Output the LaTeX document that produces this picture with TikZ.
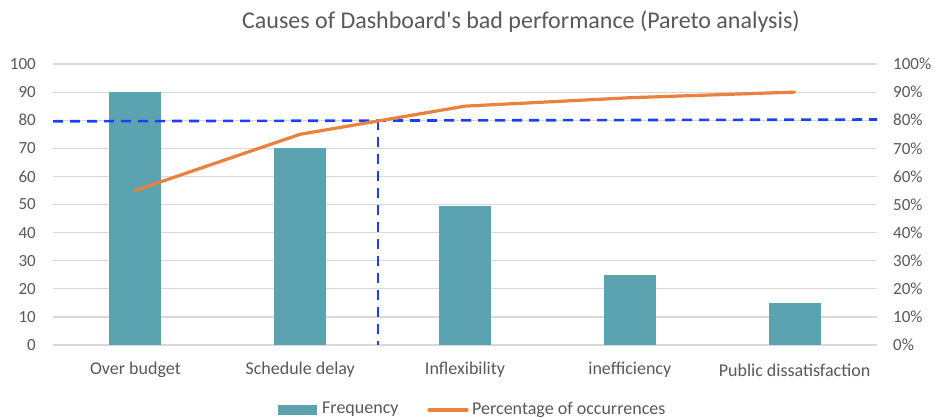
\documentclass[tikz,border=0pt]{standalone}
\usepackage{fontspec}
\setmainfont{Carlito}
\definecolor{barc}{HTML}{5BA3B1}
\definecolor{pctc}{HTML}{E8823D}
\definecolor{tgtc}{HTML}{1A40FF}
\definecolor{gridc}{HTML}{D9D9D9}
\definecolor{txtc}{HTML}{595959}
\begin{document}
\begin{tikzpicture}[x=1pt,y=-1pt,
  gridline/.style={gridc, line width=1.2pt},
  axislabel/.style={text=txtc, font=\fontsize{17}{17}\selectfont, inner sep=0pt},
  catlabel/.style={text=txtc, font=\fontsize{18}{18}\selectfont, inner sep=0pt},
  barbox/.style={fill=barc, draw=none},
  pctline/.style={pctc, line width=3.2pt, line cap=round, line join=round},
  target/.style={tgtc, line width=2.6pt, dash pattern=on 10pt off 7pt},
  legendtext/.style={text=txtc, font=\fontsize{18}{18}\selectfont, inner sep=0pt, anchor=west}]
\fill[white] (0,0) rectangle (936,418);
\useasboundingbox (0,0) rectangle (936,418);
% title
\node[text=txtc, font=\fontsize{24}{24}\selectfont, inner sep=0pt] (title) at (521,22) {Causes of Dashboard\textquotesingle s bad performance (Pareto analysis)};
% grid and axis labels
\foreach \k in {0,...,10} {
  \pgfmathtruncatemacro{\v}{\k*10}
  \draw[gridline] (53,{345-\k*28.1}) -- (877,{345-\k*28.1});
  \node[axislabel, anchor=east] (l\k) at (36,{345-\k*28.1}) {\v};
  \node[axislabel, anchor=west] (r\k) at (893,{345-\k*28.1}) {\v\%};
}
% bars
\foreach \c/\val [count=\i] in {135.4/90, 300.2/70, 465/49.5, 629.8/25, 794.6/15} {
  \fill[barbox] ({\c-26},345) rectangle ({\c+26},{345-\val*2.81});
}
% target lines
\coordinate (tl) at (53,121.3);
\coordinate (tr) at (877,119.5);
\coordinate (vt) at (378,120.3);
\coordinate (vb) at (378,345);
\draw[target] (tl) -- (tr);
\draw[target] (vt) -- (vb);
% percentage line
\coordinate (p1) at (135.4,{345-55*2.81});
\coordinate (p2) at (300.2,{345-75*2.81});
\coordinate (p3) at (465,{345-85*2.81});
\coordinate (p4) at (629.8,{345-88*2.81});
\coordinate (p5) at (794.6,{345-90*2.81});
\draw[pctline] (p1) -- (p2) -- (p3) -- (p4) -- (p5);
% category labels
\node[catlabel] (c1) at (135.4,370) {Over budget};
\node[catlabel] (c2) at (300.2,370) {Schedule delay};
\node[catlabel] (c3) at (465,370) {Inflexibility};
\node[catlabel] (c4) at (629.8,370) {inefficiency};
\node[catlabel] (c5) at (794.6,370) {Public dissatisfaction};
% legend
\fill[barbox] (278,405) rectangle (317,415);
\node[legendtext] (lf) at (322,409.5) {Frequency};
\coordinate (la) at (429,410);
\coordinate (lb) at (467,410);
\draw[pctline] (la) -- (lb);
\node[legendtext] (lp) at (472,409.5) {Percentage of occurrences};
\end{tikzpicture}
\end{document}
